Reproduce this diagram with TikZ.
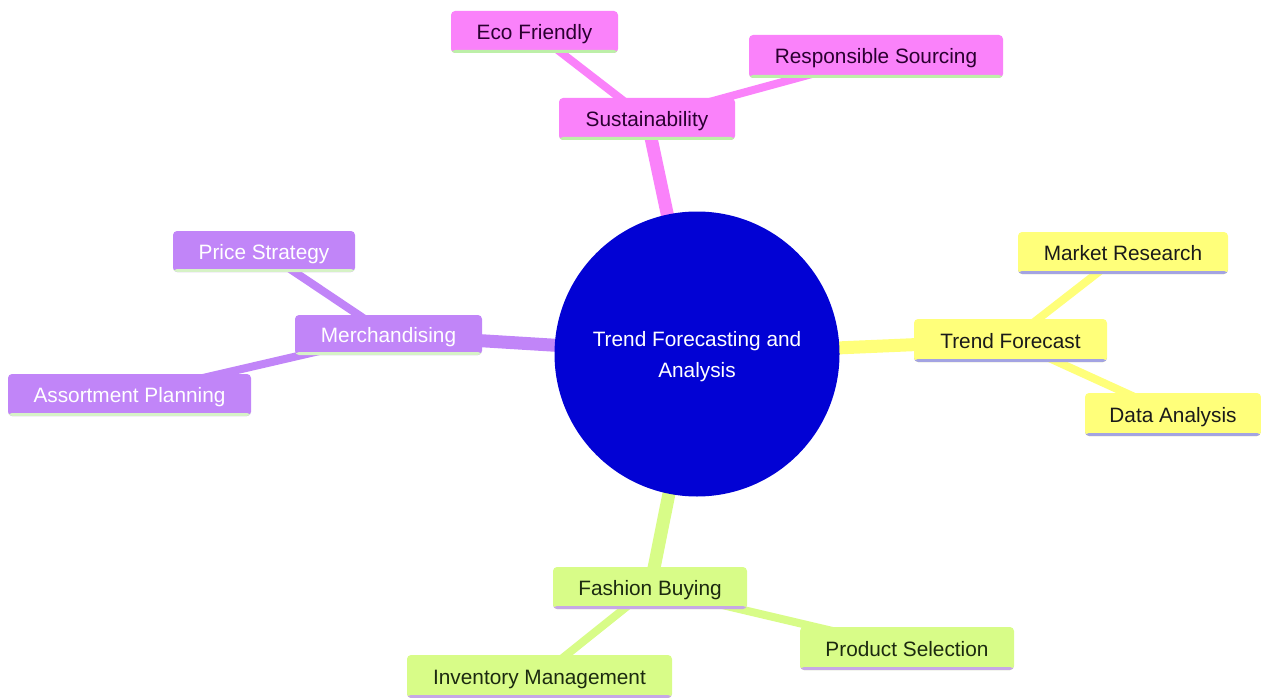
\documentclass[tikz,border=0pt]{standalone}
\usepackage{fontspec}
\setmainfont{Liberation Sans}
\definecolor{cpink}{HTML}{FA82FA}
\definecolor{cpurple}{HTML}{C185F8}
\definecolor{cyellow}{HTML}{FFFF7A}
\definecolor{cgreen}{HTML}{D8FC88}
\definecolor{croot}{HTML}{0202D4}
\definecolor{tpink}{HTML}{2A0030}
\definecolor{tyellow}{HTML}{1A1A1A}
\definecolor{tgreen}{HTML}{1C2A10}
\definecolor{ulgreen}{HTML}{BDEFA8}
\definecolor{ulpgreen}{HTML}{D6F2C6}
\definecolor{ullav}{HTML}{A3A3E2}
\definecolor{ulpurp}{HTML}{C6A8E6}
\pgfdeclarelayer{bg}
\pgfsetlayers{bg,main}
\begin{document}
\begin{tikzpicture}[x=1pt,y=-1pt,
  box/.style={rectangle, rounded corners=4pt, minimum height=42pt, inner sep=0pt,
    text height=15pt, text depth=0pt,
    font=\fontsize{20.8}{25}\selectfont},
  ul/.style={path picture={\fill[#1] ([yshift=3pt]path picture bounding box.south west) rectangle (path picture bounding box.south east);}},
  pinkbox/.style={box, fill=cpink, text=tpink, ul=ulgreen},
  purplebox/.style={box, fill=cpurple, text=white, ul=ulpgreen},
  yellowbox/.style={box, fill=cyellow, text=tyellow, ul=ullav},
  greenbox/.style={box, fill=cgreen, text=tgreen, ul=ulpurp},
  rootnode/.style={circle, fill=croot, text=white, minimum size=285pt, inner sep=0pt,
    align=center, font=\fontsize{20.8}{31}\selectfont},
  rootedge/.style={line width=13pt},
  leafedge/.style={line width=8pt}
]
\useasboundingbox (0,0) rectangle (1261,698);

\node[rootnode] (root) at (697,354) {\rule{0pt}{19.5pt}Trend Forecasting and\\Analysis};

\node[pinkbox, minimum width=176pt] (sust) at (647,119) {Sustainability};
\node[pinkbox, minimum width=167pt] (eco) at (534.5,32) {Eco Friendly};
\node[pinkbox, minimum width=254pt, minimum height=43pt] (resp) at (876,56.5) {Responsible Sourcing};

\node[yellowbox, minimum width=193pt, minimum height=43pt] (tf) at (1010.5,340.5) {Trend Forecast};
\node[yellowbox, minimum width=210pt] (mkt) at (1123,253) {Market Research};
\node[yellowbox, minimum width=176pt, minimum height=43pt] (data) at (1173,414.5) {Data Analysis};

\node[purplebox, minimum width=187pt, minimum height=40pt] (merch) at (388.5,335) {Merchandising};
\node[purplebox, minimum width=182pt, minimum height=41pt] (price) at (264,251.5) {Price Strategy};
\node[purplebox, minimum width=243pt] (assort) at (129.5,395) {Assortment Planning};

\node[greenbox, minimum width=194pt] (fb) at (650,588) {Fashion Buying};
\node[greenbox, minimum width=214pt, minimum height=43pt] (prod) at (907,648.5) {Product Selection};
\node[greenbox, minimum width=265pt, minimum height=43pt] (inv) at (539.5,676.5) {Inventory Management};

\begin{pgfonlayer}{bg}
  \draw[rootedge, cpink] (root.center) -- (sust.center);
  \draw[leafedge, cpink] (sust.center) -- (eco.center);
  \draw[leafedge, cpink] (sust.center) -- (resp.center);
  \draw[rootedge, cyellow] (root.center) -- (tf.center);
  \draw[leafedge, cyellow] (tf.center) -- (mkt.center);
  \draw[leafedge, cyellow] (tf.center) -- (data.center);
  \draw[rootedge, cpurple] (root.center) -- (merch.center);
  \draw[leafedge, cpurple] (merch.center) -- (price.center);
  \draw[leafedge, cpurple] (merch.center) -- (assort.center);
  \draw[rootedge, cgreen] (root.center) -- (fb.center);
  \draw[leafedge, cgreen] (fb.center) -- (prod.center);
  \draw[leafedge, cgreen] (fb.center) -- (inv.center);
\end{pgfonlayer}
\end{tikzpicture}
\end{document}
